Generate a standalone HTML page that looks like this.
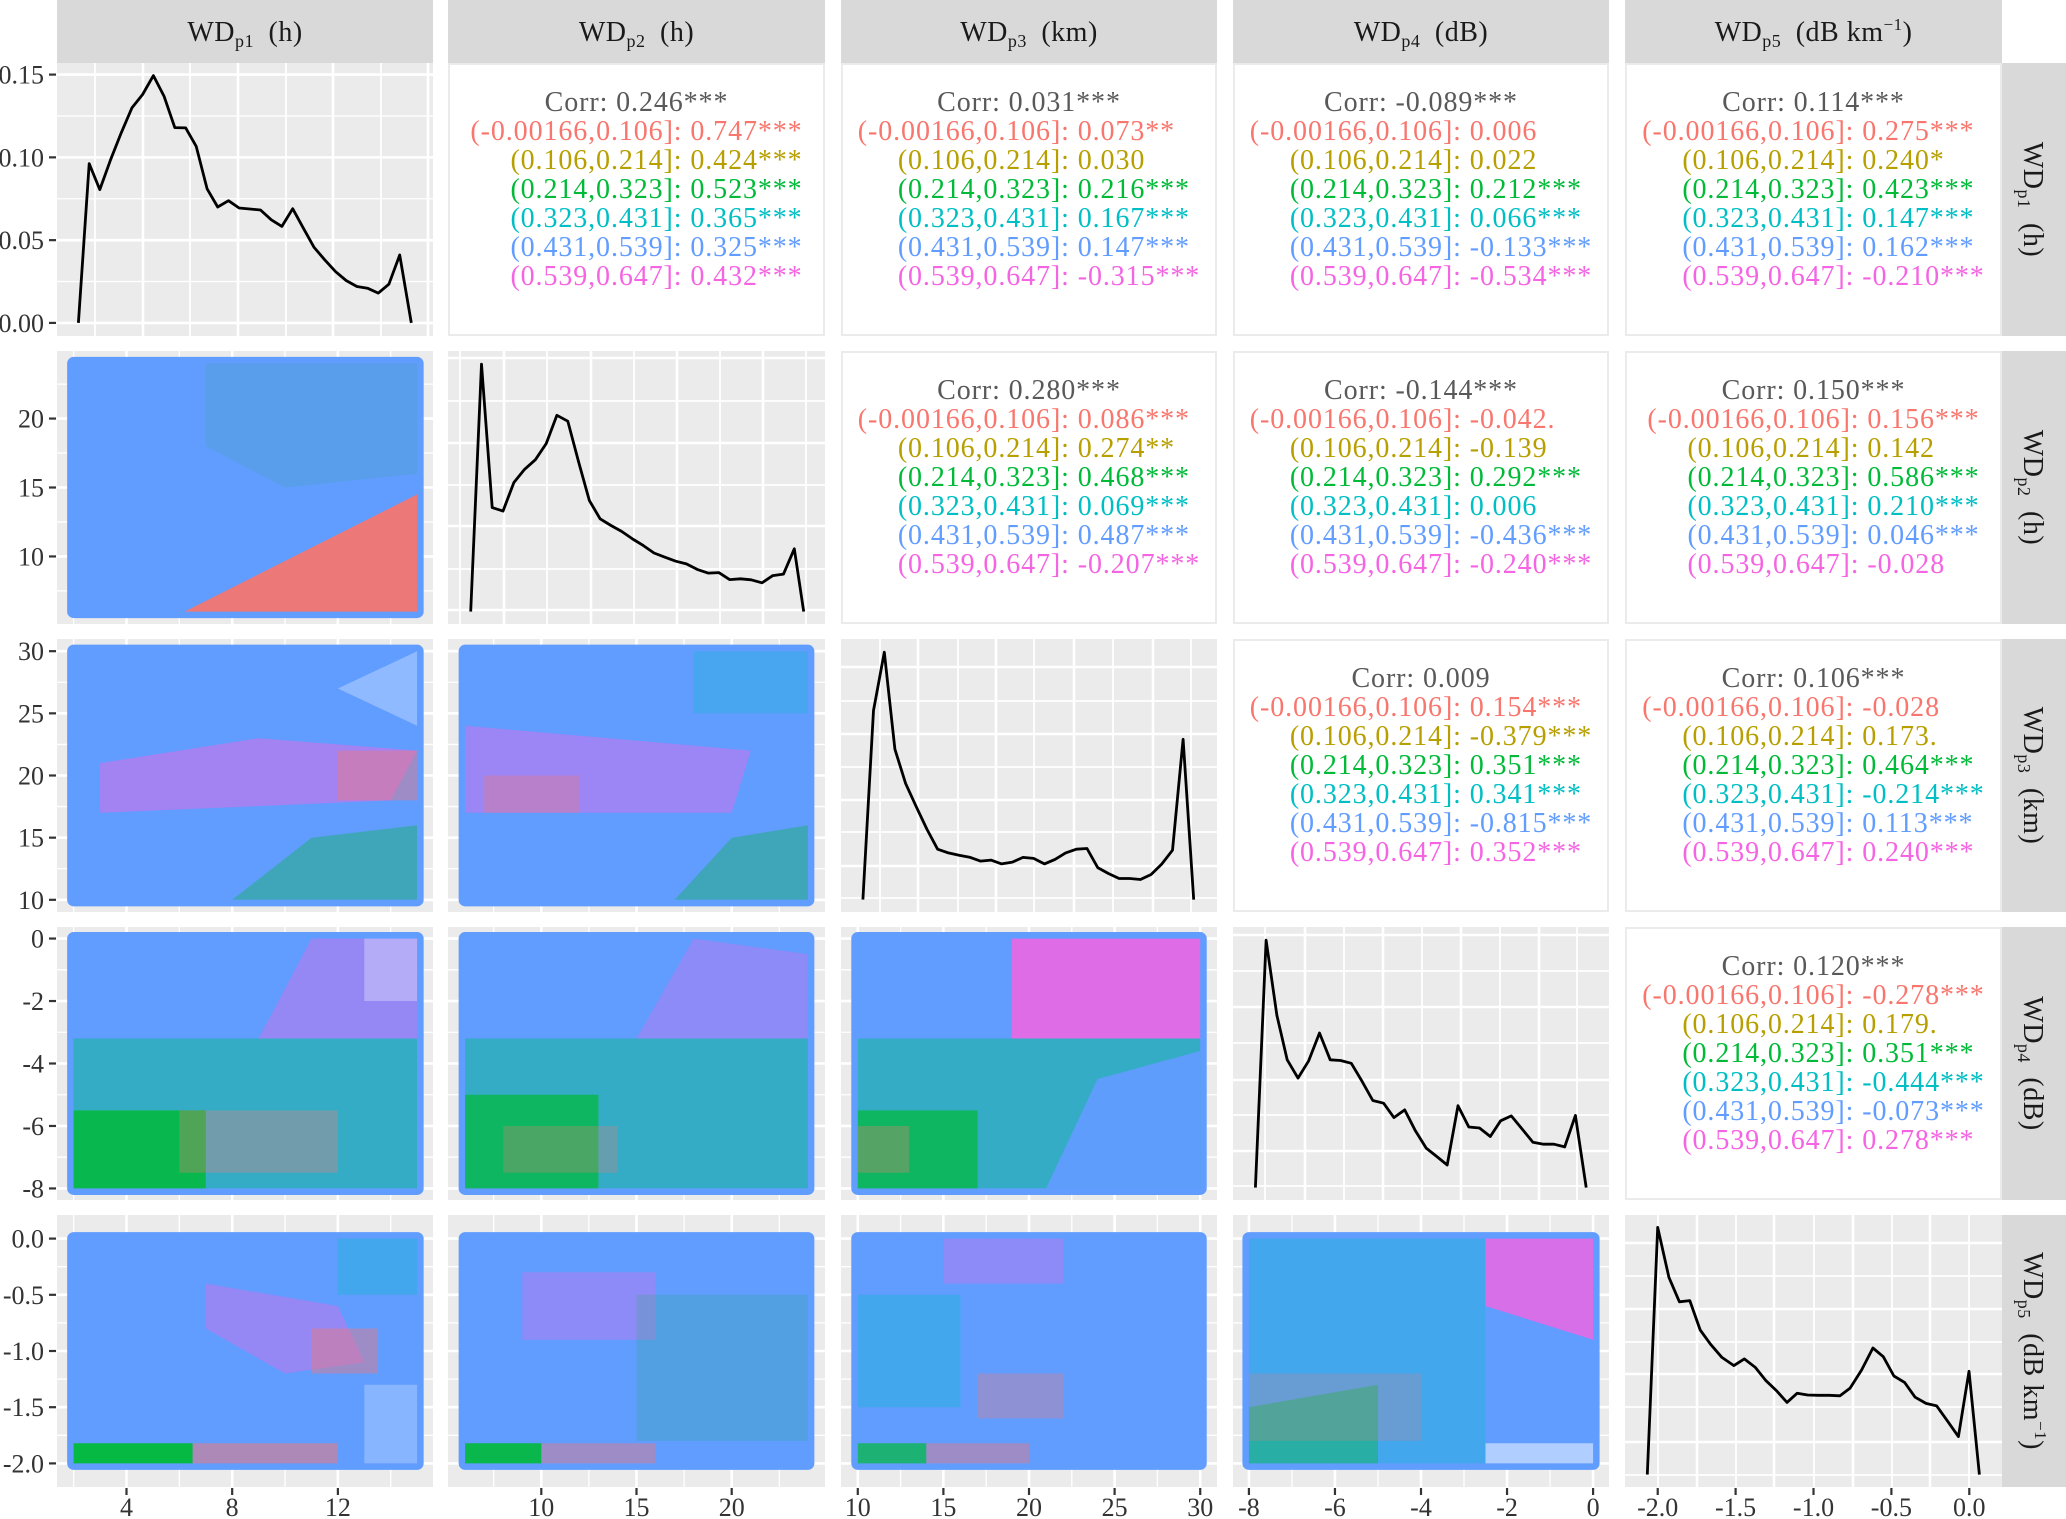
<!DOCTYPE html>
<html><head><meta charset="utf-8"><style>
html,body{margin:0;padding:0;background:#fff}
svg{display:block}
text{font-family:"Liberation Serif",serif}
</style></head><body>
<svg id="chart" xmlns="http://www.w3.org/2000/svg" width="2066" height="1519" viewBox="0 0 2066 1519">
<rect x="0" y="0" width="2066" height="1519" fill="#fff"/>
</svg>
<script>
// ---------- data ----------
const groupLabels = ['(-0.00166,0.106]','(0.106,0.214]','(0.214,0.323]','(0.323,0.431]','(0.431,0.539]','(0.539,0.647]'];
const groupColors = ['#F8766D','#B79F00','#00BA38','#00BFC4','#619CFF','#F564E3'];
const varNames = ['p1','p2','p3','p4','p5'];
const varUnits = ['(h)','(h)','(km)','(dB)','(dB km'];
const dens1X = [2.18,2.59,2.99,3.40,3.80,4.21,4.61,5.02,5.42,5.83,6.24,6.64,7.05,7.45,7.86,8.26,8.67,9.07,9.48,9.88,10.29,10.69,11.10,11.50,11.91,12.31,12.72,13.12,13.53,13.93,14.34,14.78];
const dens1Y = [0,0.0962,0.0805,0.0986,0.1148,0.130,0.138,0.1494,0.137,0.118,0.1178,0.1067,0.081,0.070,0.0738,0.0694,0.0688,0.0682,0.0623,0.0583,0.069,0.0573,0.0456,0.0381,0.031,0.0256,0.022,0.021,0.018,0.0234,0.041,0];
const dens2X = [6.29,6.86,7.42,7.99,8.56,9.12,9.69,10.26,10.82,11.39,11.96,12.52,13.09,13.66,14.22,14.79,15.36,15.92,16.49,17.06,17.62,18.19,18.76,19.32,19.89,20.46,21.02,21.59,22.16,22.72,23.29,23.78];
const dens2Y = [0,0.997,0.419,0.405,0.520,0.573,0.612,0.677,0.791,0.767,0.603,0.448,0.374,0.347,0.323,0.293,0.266,0.236,0.219,0.203,0.192,0.170,0.155,0.157,0.129,0.132,0.128,0.116,0.145,0.151,0.253,0];
const dens3X = [10.30,10.92,11.55,12.17,12.79,13.42,14.04,14.66,15.29,15.91,16.53,17.16,17.78,18.40,19.03,19.65,20.27,20.90,21.52,22.14,22.77,23.39,24.01,24.64,25.26,25.88,26.51,27.13,27.75,28.38,29.00,29.62];
const dens3Y = [0,0.762,0.997,0.606,0.468,0.374,0.283,0.203,0.188,0.179,0.171,0.155,0.159,0.144,0.151,0.170,0.166,0.144,0.162,0.188,0.203,0.206,0.129,0.105,0.085,0.085,0.081,0.101,0.143,0.199,0.646,0];
const dens4X = [-7.85,-7.60,-7.35,-7.11,-6.86,-6.61,-6.36,-6.11,-5.87,-5.62,-5.37,-5.12,-4.87,-4.63,-4.38,-4.13,-3.88,-3.63,-3.39,-3.14,-2.89,-2.64,-2.39,-2.15,-1.90,-1.65,-1.40,-1.15,-0.91,-0.66,-0.41,-0.16];
const dens4Y = [0,0.997,0.694,0.515,0.441,0.511,0.623,0.515,0.512,0.501,0.428,0.351,0.340,0.282,0.313,0.229,0.159,0.125,0.091,0.330,0.244,0.240,0.206,0.269,0.289,0.236,0.183,0.175,0.175,0.164,0.291,0];
const dens5X = [-2.067,-2.0,-1.928,-1.861,-1.794,-1.727,-1.662,-1.588,-1.511,-1.444,-1.374,-1.305,-1.238,-1.170,-1.105,-1.038,-0.969,-0.899,-0.830,-0.765,-0.691,-0.619,-0.552,-0.484,-0.415,-0.348,-0.278,-0.209,-0.139,-0.070,-0.002,0.065];
const dens5Y = [0,1.0,0.798,0.699,0.704,0.585,0.528,0.474,0.441,0.468,0.434,0.380,0.340,0.292,0.329,0.322,0.321,0.321,0.319,0.350,0.423,0.512,0.477,0.399,0.373,0.313,0.288,0.278,0.216,0.154,0.418,0];
const varMin = [2,6,10,-8,-2];
const varMax = [15,24,30,0,0];
const corr_r1c2 = ['0.246***','0.747***','0.424***','0.523***','0.365***','0.325***','0.432***'];
const corr_r1c3 = ['0.031***','0.073**','0.030','0.216***','0.167***','0.147***','-0.315***'];
const corr_r1c4 = ['-0.089***','0.006','0.022','0.212***','0.066***','-0.133***','-0.534***'];
const corr_r1c5 = ['0.114***','0.275***','0.240*','0.423***','0.147***','0.162***','-0.210***'];
const corr_r2c3 = ['0.280***','0.086***','0.274**','0.468***','0.069***','0.487***','-0.207***'];
const corr_r2c4 = ['-0.144***','-0.042.','-0.139','0.292***','0.006','-0.436***','-0.240***'];
const corr_r2c5 = ['0.150***','0.156***','0.142','0.586***','0.210***','0.046***','-0.028'];
const corr_r3c4 = ['0.009','0.154***','-0.379***','0.351***','0.341***','-0.815***','0.352***'];
const corr_r3c5 = ['0.106***','-0.028','0.173.','0.464***','-0.214***','0.113***','0.240***'];
const corr_r4c5 = ['0.120***','-0.278***','0.179.','0.351***','-0.444***','-0.073***','0.278***'];
const corrPanels = [[0,1,corr_r1c2],[0,2,corr_r1c3],[0,3,corr_r1c4],[0,4,corr_r1c5],[1,2,corr_r2c3],[1,3,corr_r2c4],[1,4,corr_r2c5],[2,3,corr_r3c4],[2,4,corr_r3c5],[3,4,corr_r4c5]];
const scatterRegions = [
 [1,0,'#3aa89a',0.2,[7,24,15,24,15,16,10,15,7,18]],
 [1,0,'#F8766D',0.92,[6.2,6,15,6,15,14.5]],
 [2,0,'#F564E3',0.45,[3,17,14,18,15,22,9,23,3,21]],
 [2,0,'#F8766D',0.4,[12,18,15,18,15,22,12,22]],
 [2,0,'#00BA38',0.35,[8,10,15,10,15,16,11,15]],
 [2,0,'#ffffff',0.3,[12,27,15,30,15,24]],
 [2,1,'#F564E3',0.4,[6,17,20,17,21,22,6,24]],
 [2,1,'#F8766D',0.3,[7,17,12,17,12,20,7,20]],
 [2,1,'#00BA38',0.35,[17,10,24,10,24,16,20,15]],
 [2,1,'#00BFC4',0.25,[18,25,24,25,24,30,18,30]],
 [3,0,'#F564E3',0.35,[9,-3.2,15,-3.2,15,0,11,0]],
 [3,0,'#2bb0b8',0.8,[2,-8,15,-8,15,-3.2,2,-3.2]],
 [3,0,'#00BA38',0.85,[2,-8,7,-8,7,-5.5,2,-5.5]],
 [3,0,'#F8766D',0.3,[6,-7.5,12,-7.5,12,-5.5,6,-5.5]],
 [3,0,'#ffffff',0.3,[13,-2,15,-2,15,0,13,0]],
 [3,1,'#F564E3',0.3,[15,-3.2,24,-3.2,24,-0.5,18,0]],
 [3,1,'#2bb0b8',0.8,[6,-8,24,-8,24,-3.2,6,-3.2]],
 [3,1,'#00BA38',0.7,[6,-8,13,-8,13,-5,6,-5]],
 [3,1,'#F8766D',0.25,[8,-7.5,14,-7.5,14,-6,8,-6]],
 [3,2,'#F564E3',0.85,[19,-3.2,30,-3.2,30,0,19,0]],
 [3,2,'#2bb0b8',0.8,[10,-8,30,-8,30,-3.2,10,-3.2]],
 [3,2,'#00BA38',0.7,[10,-8,17,-8,17,-5.5,10,-5.5]],
 [3,2,'#F8766D',0.3,[10,-7.5,13,-7.5,13,-6,10,-6]],
 [3,2,'#619CFF',0.95,[21,-8,30,-8,30,-3.6,24,-4.5]],
 [4,0,'#00BA38',0.95,[2,-2,6.5,-2,6.5,-1.82,2,-1.82]],
 [4,0,'#F8766D',0.5,[6.5,-2,12,-2,12,-1.82,6.5,-1.82]],
 [4,0,'#F564E3',0.35,[7,-0.4,12,-0.6,13,-1.1,10,-1.2,7,-0.8]],
 [4,0,'#F8766D',0.4,[11,-0.8,13.5,-0.8,13.5,-1.2,11,-1.2]],
 [4,0,'#ffffff',0.25,[13,-2,15,-2,15,-1.3,13,-1.3]],
 [4,0,'#00BFC4',0.3,[12,0,15,0,15,-0.5,12,-0.5]],
 [4,1,'#00BA38',0.9,[6,-2,10,-2,10,-1.82,6,-1.82]],
 [4,1,'#F8766D',0.4,[10,-2,16,-2,16,-1.82,10,-1.82]],
 [4,1,'#F564E3',0.3,[9,-0.3,16,-0.3,16,-0.9,9,-0.9]],
 [4,1,'#00BA38',0.15,[15,-0.5,24,-0.5,24,-1.8,15,-1.8]],
 [4,2,'#00BA38',0.7,[10,-2,14,-2,14,-1.82,10,-1.82]],
 [4,2,'#F8766D',0.4,[14,-2,20,-2,20,-1.82,14,-1.82]],
 [4,2,'#00BFC4',0.3,[10,-0.5,16,-0.5,16,-1.5,10,-1.5]],
 [4,2,'#F564E3',0.3,[15,0,22,0,22,-0.4,15,-0.4]],
 [4,2,'#F8766D',0.3,[17,-1.2,22,-1.2,22,-1.6,17,-1.6]],
 [4,3,'#00BFC4',0.3,[-8,-2,-2.5,-2,-2.5,0,-8,0]],
 [4,3,'#00BA38',0.4,[-8,-2,-5,-2,-5,-1.3,-8,-1.5]],
 [4,3,'#F8766D',0.2,[-8,-1.8,-4,-1.8,-4,-1.2,-8,-1.2]],
 [4,3,'#F564E3',0.8,[-2.5,0,0,0,0,-0.9,-2.5,-0.6]],
 [4,3,'#ffffff',0.5,[-2.5,-2,0,-2,0,-1.82,-2.5,-1.82]]
];
const majorBreaks = [[4,8,12],[10,15,20],[10,15,20,25,30],[-8,-6,-4,-2,0],[-2,-1.5,-1,-0.5,0]];
const minorBreaks = [[2,6,10,14],[7.5,12.5,17.5,22.5],[12.5,17.5,22.5,27.5],[-7,-5,-3,-1],[-1.75,-1.25,-0.75,-0.25]];
const tickLabels = [['4','8','12'],['10','15','20'],['10','15','20','25','30'],['-8','-6','-4','-2','0'],['-2.0','-1.5','-1.0','-0.5','0.0']];
const dens1Breaks = [0,0.05,0.10,0.15];
const dens1Labels = ['0.00','0.05','0.10','0.15'];
const dens1Minor = [0.025,0.075,0.125];

// ---------- layout ----------
const cols = [[57,433],[448,825],[841,1217],[1233,1609],[1625,2002]];
const rows = [[63,336],[351,624],[639,912],[927,1200],[1215,1487]];
const dom = [[1.37,15.6],[5.1,24.9],[9.02,30.98],[-8.37,0.37],[-2.21,0.21]];
const dens1Dom = [-0.0079,0.157];
const diagGridV = [[38,86,133,181,229,276,324,371],[12,56,99,143,186,229,272,315,358],[39,77,117,155,193,233,272,312,350],[32,72,111,150,189,228,267,306,344],[33,72,111,149,189,228,267,305,344]];
const diagGridH = [[],[7,50,92,134,175,218,259],[28,62,95,128,161,193,227,259],[8,44,80,116,153,188,224,259],[28,61,94,127,159,192,227,260]];

const NS='http://www.w3.org/2000/svg';
const svg=document.getElementById('chart');
function mk(tag,attrs,parent){const e=document.createElementNS(NS,tag);for(const k in attrs)e.setAttribute(k,attrs[k]);(parent||svg).appendChild(e);return e;}
function sx(i,v){const c=cols[i];return c[0]+(v-dom[i][0])/(dom[i][1]-dom[i][0])*(c[1]-c[0]);}
function sy(j,v){const r=rows[j];return r[1]-(v-dom[j][0])/(dom[j][1]-dom[j][0])*(r[1]-r[0]);}
function dy(j,rel){const r=rows[j];return r[1]-(rel+0.05)/1.1*(r[1]-r[0]);}
function d1y(v){const r=rows[0];return r[1]-(v-dens1Dom[0])/(dens1Dom[1]-dens1Dom[0])*(r[1]-r[0]);}

for(let i=0;i<5;i++){
  const g=mk('g',{});
  
  
  mk('rect',{x:cols[i][0],y:0,width:cols[i][1]-cols[i][0],height:63,fill:'#d9d9d9'},g);
  const t=mk('text',{x:(cols[i][0]+cols[i][1])/2,y:41,'text-anchor':'middle','font-size':28,fill:'#1a1a1a','letter-spacing':0.5},g);
  t.innerHTML='WD<tspan font-size="18" dy="6">'+varNames[i]+'</tspan><tspan dy="-6">\u2002'+varUnits[i]+(i===4?'<tspan font-size="17" dy="-11">\u22121</tspan><tspan dy="11">)</tspan>':'')+'</tspan>';
  const g2=mk('g',{});
  
  
  mk('rect',{x:2002,y:rows[i][0],width:64,height:rows[i][1]-rows[i][0],fill:'#d9d9d9'},g2);
  const cy=(rows[i][0]+rows[i][1])/2;
  const t2=mk('text',{x:0,y:0,'text-anchor':'middle','font-size':28,fill:'#1a1a1a','letter-spacing':0.5,transform:'translate(2024,'+cy+') rotate(90)'},g2);
  t2.innerHTML='WD<tspan font-size="18" dy="6">'+varNames[i]+'</tspan><tspan dy="-6">\u2002'+varUnits[i]+(i===4?'<tspan font-size="17" dy="-11">\u22121</tspan><tspan dy="11">)</tspan>':'')+'</tspan>';
}

function panelBg(r,c,name){
  const g=mk('g',{});
  
  
  mk('rect',{x:cols[c][0],y:rows[r][0],width:cols[c][1]-cols[c][0],height:rows[r][1]-rows[r][0],fill:'#ebebeb'},g);
  return g;
}
function vline(g,x,r,w){mk('line',{x1:x,x2:x,y1:rows[r][0],y2:rows[r][1],stroke:'#fff','stroke-width':w},g);}
function hline(g,y,c,w){mk('line',{x1:cols[c][0],x2:cols[c][1],y1:y,y2:y,stroke:'#fff','stroke-width':w},g);}

for(let r=1;r<5;r++){
  for(let c=0;c<r;c++){
    const g=panelBg(r,c,'scatter-r'+(r+1)+'c'+(c+1));
    minorBreaks[c].forEach(v=>vline(g,sx(c,v),r,1.3));
    majorBreaks[c].forEach(v=>vline(g,sx(c,v),r,2.6));
    minorBreaks[r].forEach(v=>hline(g,sy(r,v),c,1.3));
    majorBreaks[r].forEach(v=>hline(g,sy(r,v),c,2.6));
    const rad=6.5;
    const x0=sx(c,varMin[c])-rad, x1=sx(c,varMax[c])+rad, y0=sy(r,varMax[r])-rad, y1=sy(r,varMin[r])+rad;
    const base=mk('rect',{x:x0,y:y0,width:x1-x0,height:y1-y0,rx:rad,fill:'#619CFF'},g);
    
    
    scatterRegions.filter(s=>s[0]===r&&s[1]===c).forEach(s=>{
      const p=s[4];let pts=[];
      for(let k=0;k<p.length;k+=2)pts.push(sx(c,p[k]).toFixed(1)+','+sy(r,p[k+1]).toFixed(1));
      const e=mk('polygon',{points:pts.join(' '),fill:s[2],'fill-opacity':s[3]},g);
      
      
    });
  }
}

const densX=[dens1X,dens2X,dens3X,dens4X,dens5X];
const densY=[dens1Y,dens2Y,dens3Y,dens4Y,dens5Y];
for(let i=0;i<5;i++){
  const g=panelBg(i,i,'density-'+(i+1));
  diagGridV[i].forEach((p,k)=>vline(g,cols[i][0]+p,i,k%2?2.6:1.8));
  if(i===0){
    dens1Minor.forEach(v=>hline(g,d1y(v),0,1.3));
    dens1Breaks.forEach(v=>hline(g,d1y(v),0,2.6));
  } else {
    diagGridH[i].forEach((p,k)=>hline(g,rows[i][0]+p,i,k%2?1.8:2.6));
  }
  const pts=densX[i].map((x,k)=>sx(i,x).toFixed(1)+','+(i===0?d1y(densY[i][k]):dy(i,densY[i][k])).toFixed(1));
  const pl=mk('polyline',{points:pts.join(' '),fill:'none',stroke:'#000','stroke-width':2.8,'stroke-linejoin':'round'},g);
  
  
}

corrPanels.forEach(cp=>{
  const [r,c,vals]=cp;
  const g=mk('g',{});
  
  
  mk('rect',{x:cols[c][0]+1,y:rows[r][0]+1,width:cols[c][1]-cols[c][0]-2,height:rows[r][1]-rows[r][0]-2,fill:'#fff',stroke:'#ebebeb','stroke-width':2},g);
  const cx=(cols[c][0]+cols[c][1])/2;
  const top=rows[r][0]+48;
  const ct=mk('text',{x:cx,y:top,'text-anchor':'middle','font-size':28,'letter-spacing':0.9,fill:'#595959'},g);
  ct.textContent='Corr: '+vals[0];
  
  
  const labs=[],vs=[];let ml=0,mv=0;
  for(let k=0;k<6;k++){
    const y=top+29*(k+1);
    const a=mk('text',{x:0,y:y,'text-anchor':'end','font-size':28,'letter-spacing':0.9,fill:groupColors[k]},g);
    a.textContent=groupLabels[k];
    
    
    const b=mk('text',{x:0,y:y,'text-anchor':'start','font-size':28,'letter-spacing':0.9,fill:groupColors[k]},g);
    b.textContent=': '+vals[k+1];
    
    
    labs.push(a);vs.push(b);
    ml=Math.max(ml,a.getComputedTextLength());mv=Math.max(mv,b.getComputedTextLength());
  }
  const anchor=cx-(ml+mv)/2+ml;
  labs.forEach(a=>a.setAttribute('x',anchor));
  vs.forEach(b=>b.setAttribute('x',anchor));
});

const ax=mk('g',{});


dens1Breaks.forEach((v,k)=>{
  const y=d1y(v);
  mk('line',{x1:49,x2:56,y1:y,y2:y,stroke:'#333','stroke-width':2.2},ax);
  const t=mk('text',{x:44,y:y+9,'text-anchor':'end','font-size':26,fill:'#333'},ax);
  t.textContent=dens1Labels[k];
});
for(let r=1;r<5;r++){
  majorBreaks[r].forEach((v,k)=>{
    const y=sy(r,v);
    mk('line',{x1:49,x2:56,y1:y,y2:y,stroke:'#333','stroke-width':2.2},ax);
    const t=mk('text',{x:44,y:y+9,'text-anchor':'end','font-size':26,fill:'#333'},ax);
    t.textContent=tickLabels[r][k];
  });
}
const bx=mk('g',{});


for(let c=0;c<5;c++){
  majorBreaks[c].forEach((v,k)=>{
    const x=sx(c,v);
    mk('line',{x1:x,x2:x,y1:1488,y2:1495,stroke:'#333','stroke-width':2.2},bx);
    const t=mk('text',{x:x,y:1516,'text-anchor':'middle','font-size':26,fill:'#333'},bx);
    t.textContent=tickLabels[c][k];
  });
}
</script>
</body></html>
